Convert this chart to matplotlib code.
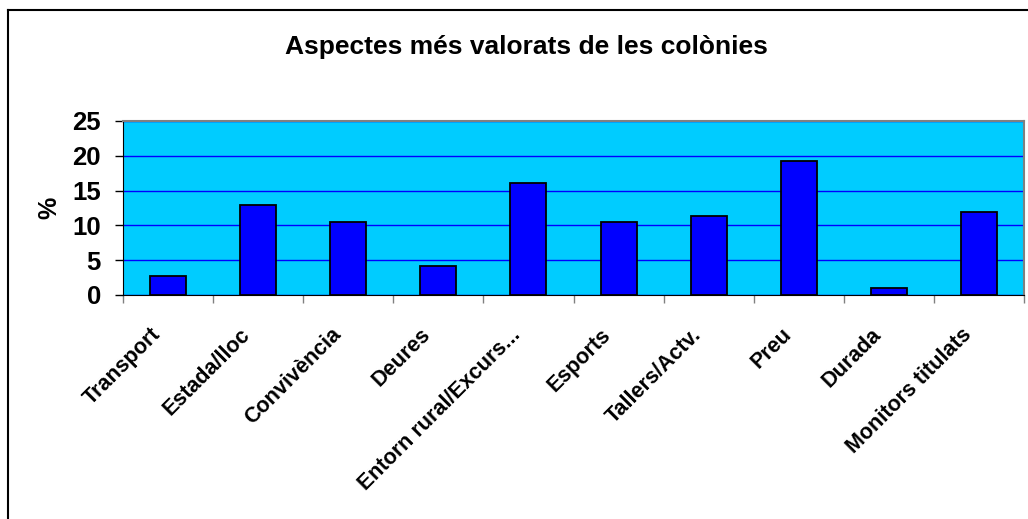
import matplotlib
matplotlib.use("Agg")
import matplotlib.pyplot as plt
from matplotlib.lines import Line2D
from matplotlib.transforms import ScaledTranslation
import numpy as np

plt.rcParams["font.family"] = ["Liberation Sans", "DejaVu Sans"]

categories = ["Transport", "Estada/lloc", "Convivència", "Deures",
              "Entorn rural/Excurs...", "Esports", "Tallers/Actv.", "Preu",
              "Durada", "Monitors titulats"]
values = [2.7, 12.9, 10.5, 4.1, 16.1, 10.5, 11.4, 19.2, 1.0, 11.9]
yticks = [0, 5, 10, 15, 20, 25]

W, H = 1028, 519
fig = plt.figure(figsize=(W / 100, H / 100), dpi=100)
ax = fig.add_axes([123 / W, 1 - 295 / H, (1024 - 123) / W, (295 - 121) / H])

x = np.arange(len(categories))
ax.set_facecolor("#00CCFF")
ax.bar(x, values, width=0.4, color="#0000FF", edgecolor="black", linewidth=1.3, zorder=3)

ax.set_xlim(-0.5, len(categories) - 0.5)
ax.set_ylim(0, 25)
ax.set_yticks(yticks)
ax.set_yticklabels([str(v) for v in yticks], fontsize=18.5, fontweight="bold")
ax.yaxis.grid(True, color="#0000FF", linewidth=1.0, zorder=1)
ax.tick_params(axis="y", length=6, width=1, pad=10)

# tick marks between categories, labels at centers
ax.set_xticks(np.arange(len(categories) + 1) - 0.5)
ax.set_xticklabels([])
ax.tick_params(axis="x", which="major", length=6, width=1, color="#808080")
ax.set_xticks(x, minor=True)
ax.set_xticklabels(categories, minor=True, rotation=45, ha="right",
                   rotation_mode="anchor", fontsize=15.5, fontweight="bold")
ax.tick_params(axis="x", which="minor", length=0, pad=21)
shift = ScaledTranslation(-18 / 100, 0, fig.dpi_scale_trans)
for lab in ax.get_xticklabels(minor=True):
    lab.set_transform(lab.get_transform() + shift)

for s in ["top", "right"]:
    ax.spines[s].set_color("#808080")
    ax.spines[s].set_linewidth(1.5)
ax.spines["bottom"].set_color("black")
ax.spines["left"].set_color("black")

ax.set_ylabel("%", fontsize=18, fontweight="bold", labelpad=8)

fig.text(526 / W, 1 - 47 / H, "Aspectes més valorats de les colònies",
         ha="center", va="center", fontsize=19, fontweight="bold")

# chart border (left and top only visible)
fig.add_artist(Line2D([7.5 / W, 7.5 / W], [0, 1 - 10 / H], transform=fig.transFigure,
                      color="black", linewidth=1.5))
fig.add_artist(Line2D([7.5 / W, 1], [1 - 10 / H, 1 - 10 / H], transform=fig.transFigure,
                      color="black", linewidth=1.5))

fig.savefig("out.png", dpi=100, facecolor="white")
